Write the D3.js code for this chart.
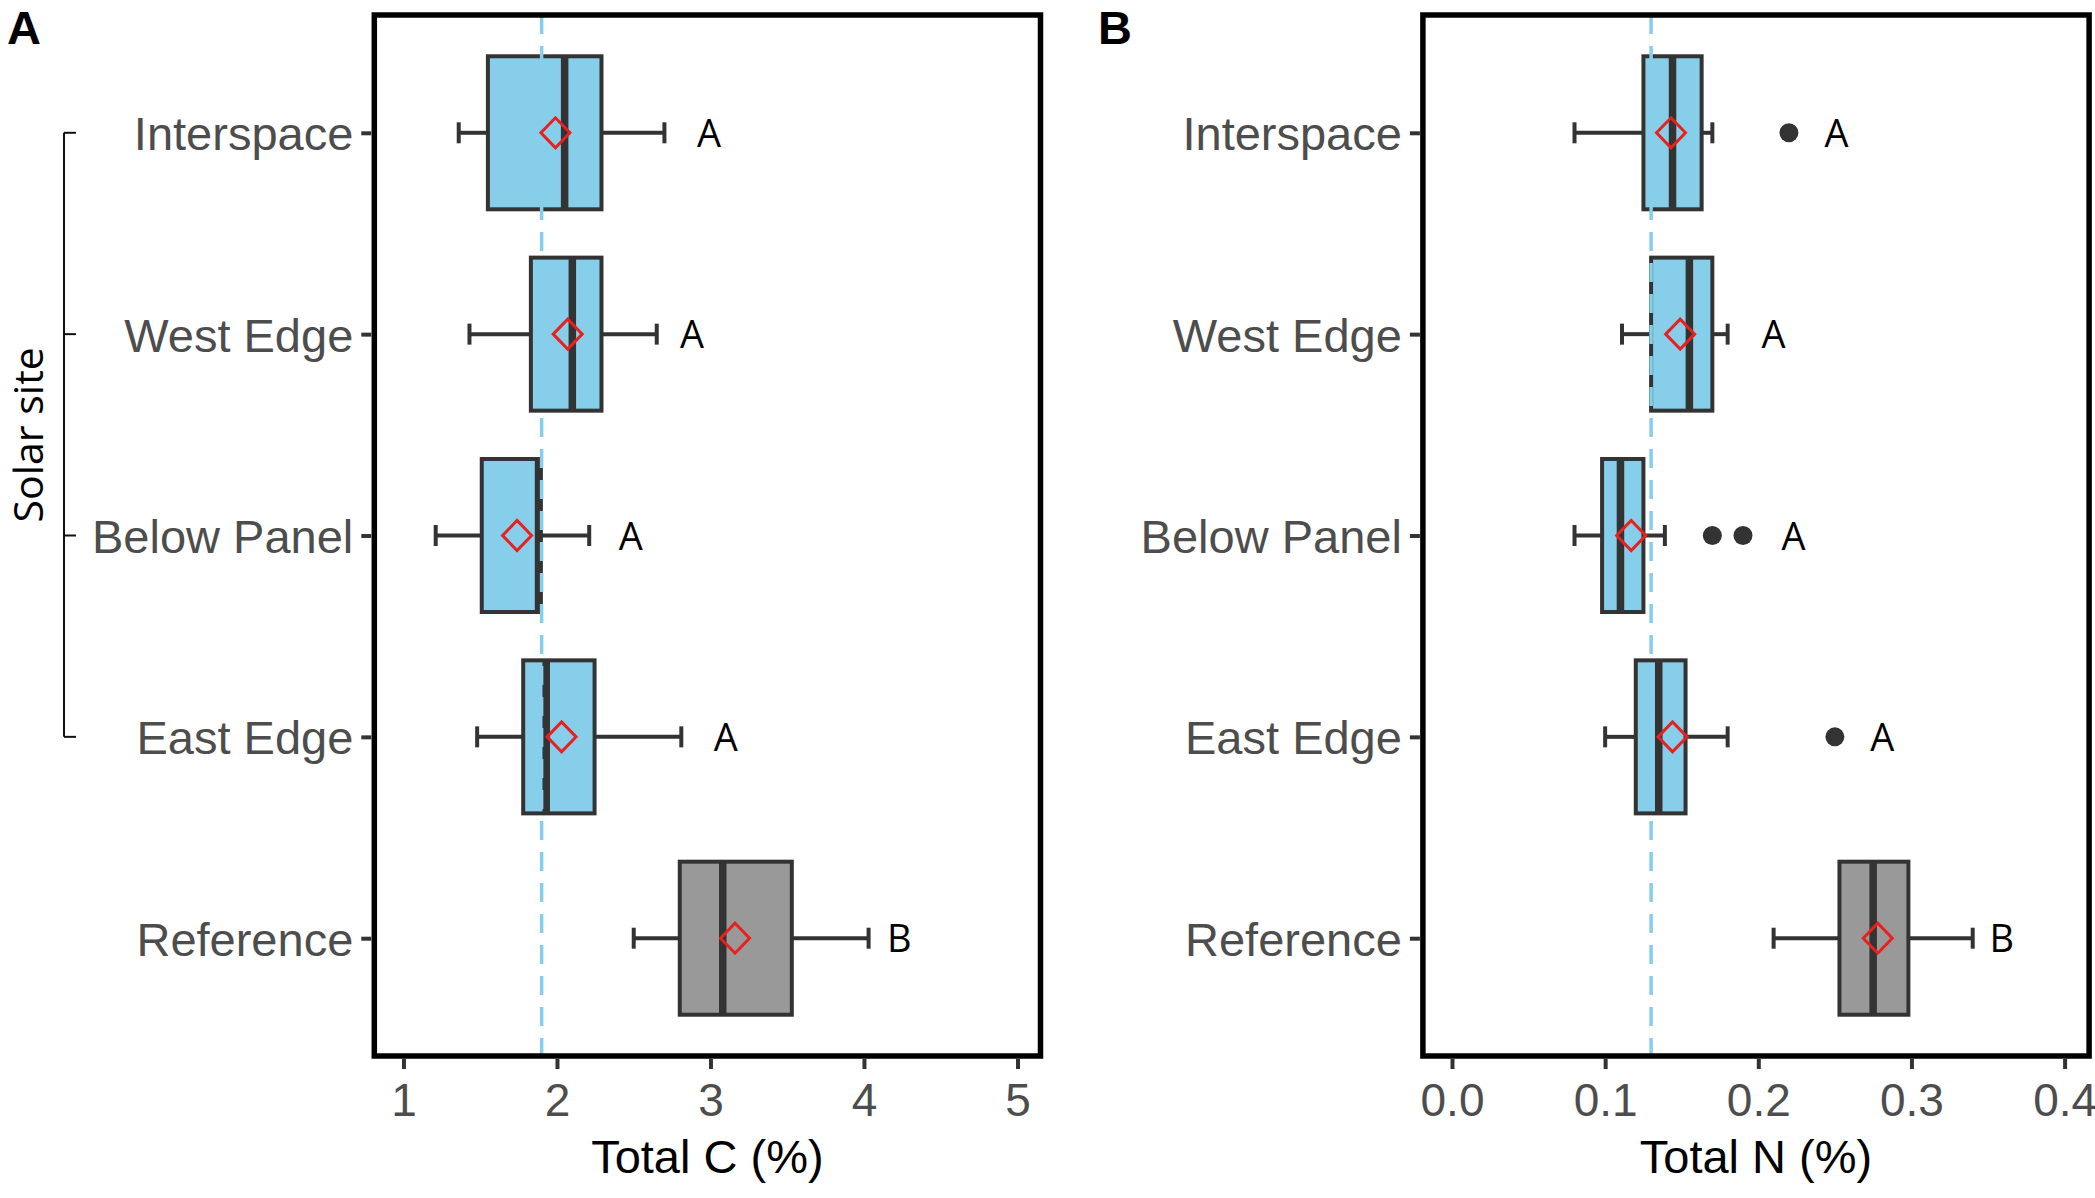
<!DOCTYPE html>
<html>
<head>
<meta charset="utf-8">
<script src="https://cdn.jsdelivr.net/npm/d3@7"></script>
<style>
  body { margin: 0; background: #fff; }
  svg { display: block; }
  .tick text { font-family: "Liberation Sans", Arial, sans-serif; fill: #4d4d4d; }
</style>
</head>
<body>
<div id="chart-area"></div>
<script>
var sites = ["Interspace", "West Edge", "Below Panel", "East Edge", "Reference"];
var siteFill = ["#87ceeb", "#87ceeb", "#87ceeb", "#87ceeb", "#999999"];

// panel A - total carbon
var cTicks = [1, 2, 3, 4, 5];
var cLow = [1.36, 1.43, 1.21, 1.48, 2.50];
var cQ1 = [1.55, 1.83, 1.51, 1.78, 2.80];
var cMedian = [2.05, 2.10, 1.88, 1.93, 3.08];
var cQ3 = [2.29, 2.29, 1.895, 2.245, 3.53];
var cHigh = [2.70, 2.65, 2.21, 2.81, 4.03];
var cMean = [1.99, 2.07, 1.74, 2.03, 3.16];
var cOutliers = [];
var cLetters = ["A", "A", "A", "A", "B"];
var cLetterAt = [2.99, 2.88, 2.48, 3.10, 4.23];
var cRefLine = 1.9;

// panel B - total nitrogen
var nTicks = [0, 0.1, 0.2, 0.3, 0.4];
var nLow = [0.080, 0.111, 0.080, 0.100, 0.210];
var nQ1 = [0.125, 0.130, 0.098, 0.120, 0.253];
var nMedian = [0.144, 0.155, 0.110, 0.135, 0.275];
var nQ3 = [0.163, 0.170, 0.125, 0.1525, 0.298];
var nHigh = [0.170, 0.180, 0.139, 0.180, 0.340];
var nMean = [0.143, 0.149, 0.117, 0.144, 0.278];
var nOutliers = [
    { site: "Interspace", value: 0.220 },
    { site: "Below Panel", value: 0.170 },
    { site: "Below Panel", value: 0.190 },
    { site: "East Edge", value: 0.250 }
];
var nLetters = ["A", "A", "A", "A", "B"];
var nLetterAt = [0.251, 0.210, 0.223, 0.281, 0.359];
var nRefLine = 0.13;

var W = 2095, H = 1198;
var plotTop = 15, plotBottom = 1056;
var panelW = 666.2;
var ink = "#333333";

var svg = d3.select('#chart-area')
    .append('svg')
    .attr('width', W)
    .attr('height', H);

function drawPanel(p) {
    var left = p.left;
    var right = left + panelW;

    var x = d3.scaleLinear()
        .domain(p.domain)
        .range([left, right]);

    var y = d3.scalePoint()
        .domain(sites)
        .range([plotTop, plotBottom])
        .padding(0.585);

    var step = y.step();
    var boxH = step * 0.76;
    var capH = 21;

    var rows = sites.map((s, i) => ({
        site: s, fill: siteFill[i],
        low: p.low[i], q1: p.q1[i], med: p.median[i], q3: p.q3[i], high: p.high[i],
        mean: p.mean[i], letter: p.letters[i], letterAt: p.letterAt[i]
    }));

    var g = svg.append('g');

    // whiskers
    g.selectAll('.whisker-lo')
        .data(rows).enter().append('line')
        .attr('x1', d => x(d.low)).attr('x2', d => x(d.q1))
        .attr('y1', d => y(d.site)).attr('y2', d => y(d.site))
        .attr('stroke', ink).attr('stroke-width', 4);
    g.selectAll('.whisker-hi')
        .data(rows).enter().append('line')
        .attr('x1', d => x(d.q3)).attr('x2', d => x(d.high))
        .attr('y1', d => y(d.site)).attr('y2', d => y(d.site))
        .attr('stroke', ink).attr('stroke-width', 4);
    ['low', 'high'].forEach(k => {
        g.selectAll('.cap-' + k)
            .data(rows).enter().append('line')
            .attr('x1', d => x(d[k])).attr('x2', d => x(d[k]))
            .attr('y1', d => y(d.site) - capH / 2).attr('y2', d => y(d.site) + capH / 2)
            .attr('stroke', ink).attr('stroke-width', 4);
    });

    // boxes
    g.selectAll('rect.box')
        .data(rows).enter().append('rect')
        .attr('x', d => x(d.q1))
        .attr('width', d => x(d.q3) - x(d.q1))
        .attr('y', d => y(d.site) - boxH / 2)
        .attr('height', boxH)
        .attr('fill', d => d.fill)
        .attr('stroke', ink)
        .attr('stroke-width', 4);

    g.selectAll('.median')
        .data(rows).enter().append('line')
        .attr('x1', d => x(d.med)).attr('x2', d => x(d.med))
        .attr('y1', d => y(d.site) - boxH / 2).attr('y2', d => y(d.site) + boxH / 2)
        .attr('stroke', ink).attr('stroke-width', 7.5);

    // reference line
    g.append('line')
        .attr('x1', x(p.refLine)).attr('x2', x(p.refLine))
        .attr('y1', plotTop).attr('y2', plotBottom)
        .attr('stroke', '#87ceeb')
        .attr('stroke-width', 3.5)
        .attr('stroke-dasharray', '19,12');

    // outliers
    g.selectAll('circle.outlier')
        .data(p.outliers).enter().append('circle')
        .attr('cx', d => x(d.value))
        .attr('cy', d => y(d.site))
        .attr('r', 9.5)
        .attr('fill', ink);

    // means
    g.selectAll('path.mean')
        .data(rows).enter().append('path')
        .attr('d', d => {
            var cx = x(d.mean), cy = y(d.site);
            return `M${cx - 14.5},${cy}L${cx},${cy - 15}L${cx + 14.5},${cy}L${cx},${cy + 15}Z`;
        })
        .attr('fill', 'none')
        .attr('stroke', '#e8211e')
        .attr('stroke-width', 3);

    // group letters
    g.selectAll('text.letter')
        .data(rows).enter().append('text')
        .attr('x', d => x(d.letterAt))
        .attr('y', d => y(d.site))
        .attr('dy', '0.37em')
        .attr('text-anchor', 'middle')
        .attr('font-family', '"Open Sans", sans-serif')
        .attr('font-size', '38px')
        .attr('fill', '#000')
        .text(d => d.letter);

    // frame
    g.append('rect')
        .attr('x', left).attr('y', plotTop)
        .attr('width', panelW).attr('height', plotBottom - plotTop)
        .attr('fill', 'none')
        .attr('stroke', '#000')
        .attr('stroke-width', 5.5);

    var xAxis = d3.axisBottom(x)
        .tickValues(p.ticks)
        .tickSize(10)
        .tickFormat(p.format);
    var xg = svg.append('g')
        .attr('transform', `translate(0, ${plotBottom + 3})`)
        .call(xAxis);
    xg.select('.domain').remove();
    xg.selectAll('.tick line').attr('stroke', ink).attr('stroke-width', 4);
    xg.selectAll('.tick text')
        .attr('y', 57).attr('dy', null)
        .attr('font-size', '46px');

    var yAxis = d3.axisLeft(y).tickSize(10).tickPadding(8);
    var yg = svg.append('g')
        .attr('transform', `translate(${left - 3}, 0)`)
        .call(yAxis);
    yg.select('.domain').remove();
    yg.selectAll('.tick line').attr('stroke', ink).attr('stroke-width', 4);
    yg.selectAll('.tick text')
        .attr('dy', '0.36em')
        .attr('font-size', '47px');

    svg.append('text')
        .attr('x', (left + right) / 2)
        .attr('y', 1173)
        .attr('text-anchor', 'middle')
        .attr('font-family', '"Liberation Sans", Arial, sans-serif')
        .attr('font-size', '47px')
        .attr('fill', '#000')
        .text(p.title);

    svg.append('text')
        .attr('x', p.tagX)
        .attr('y', 44)
        .attr('font-family', '"Liberation Sans", Arial, sans-serif')
        .attr('font-weight', 'bold')
        .attr('font-size', '47px')
        .attr('fill', '#000')
        .text(p.tag);

    return y;
}

var yA = drawPanel({
    left: 374.3, domain: [0.81, 5.15], ticks: cTicks, format: d3.format('d'),
    low: cLow, q1: cQ1, median: cMedian, q3: cQ3, high: cHigh, mean: cMean,
    outliers: cOutliers, letters: cLetters, letterAt: cLetterAt, refLine: cRefLine,
    title: 'Total C (%)', tag: 'A', tagX: 7
});

drawPanel({
    left: 1422.9, domain: [-0.019, 0.416], ticks: nTicks, format: d3.format('.1f'),
    low: nLow, q1: nQ1, median: nMedian, q3: nQ3, high: nHigh, mean: nMean,
    outliers: nOutliers, letters: nLetters, letterAt: nLetterAt, refLine: nRefLine,
    title: 'Total N (%)', tag: 'B', tagX: 1098
});

// bracket for the solar site group
var yTop = yA(sites[0]), yBot = yA(sites[3]);
var bracket = svg.append('g')
    .attr('stroke', '#111')
    .attr('stroke-width', 2)
    .attr('fill', 'none');
bracket.append('line').attr('x1', 64).attr('x2', 64).attr('y1', yTop).attr('y2', yBot);
sites.slice(0, 4).forEach(s => {
    bracket.append('line')
        .attr('x1', 64).attr('x2', 76)
        .attr('y1', yA(s)).attr('y2', yA(s));
});

svg.append('text')
    .attr('transform', `translate(43, ${(yTop + yBot) / 2}) rotate(-90)`)
    .attr('text-anchor', 'middle')
    .attr('font-family', '"Open Sans", sans-serif')
    .attr('font-size', '41px')
    .attr('fill', '#000')
    .text('Solar site');
</script>
</body>
</html>
